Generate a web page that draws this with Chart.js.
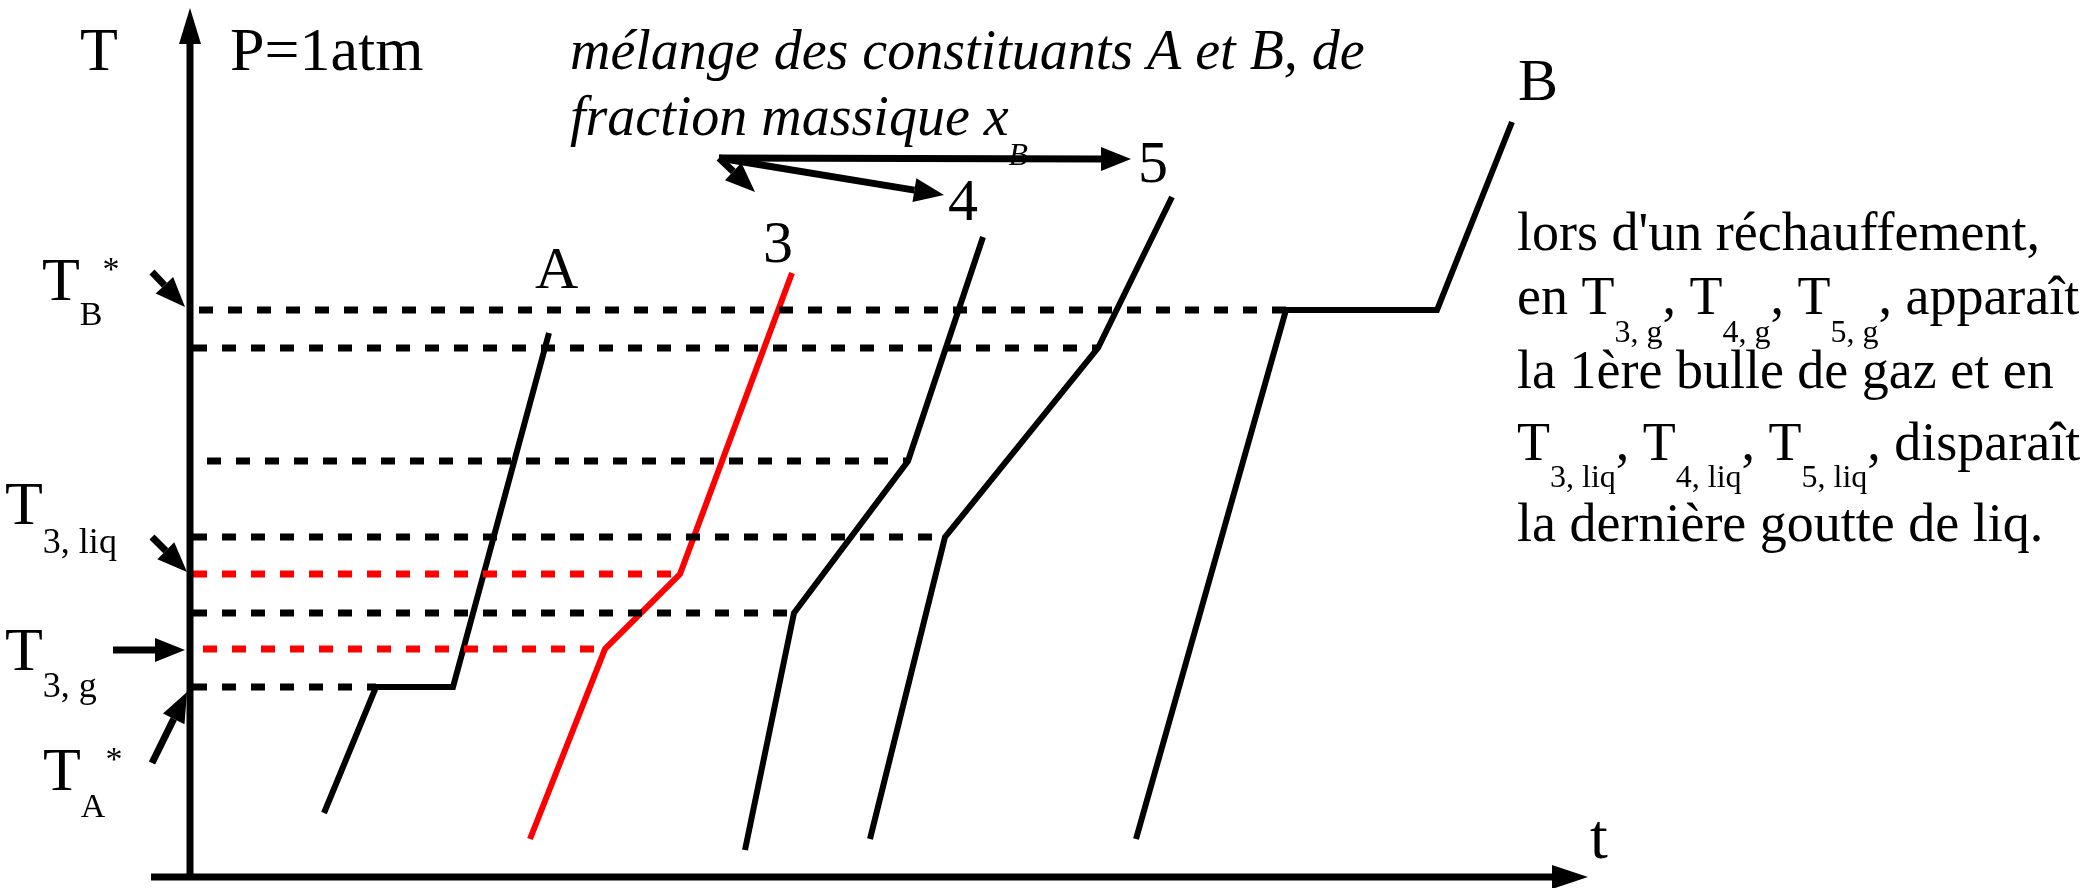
<!DOCTYPE html>
<html>
<head>
<meta charset="utf-8">
<script src="https://cdn.jsdelivr.net/npm/chart.js@4/dist/chart.umd.min.js"></script>
<style>
  html, body { margin: 0; padding: 0; background: #fff; }
  canvas { display: block; }
</style>
</head>
<body>
<canvas id="chart" width="2089" height="888"></canvas>
<script>
// Courbes d'analyse thermique, P = 1 atm (t et T en unités arbitraires).
var tA = [13.4, 18.6, 26.3, 35.9];
var TA = [6.4, 19.0, 19.0, 54.4];
var t3 = [34.0, 41.5, 49.0, 60.2];
var T3 = [3.8, 22.8, 30.3, 60.4];
var t4 = [55.5, 60.4, 71.8, 79.3];
var T4 = [2.7, 26.4, 41.6, 64.0];
var t5 = [68.0, 75.5, 90.8, 98.2];
var T5 = [3.8, 34.0, 52.9, 68.0];
var tB = [94.6, 109.6, 124.7, 132.2];
var TB = [3.8, 56.7, 56.7, 75.5];

// Paliers / températures repérées (lignes pointillées).
var levelT = [56.7, 52.9, 41.6, 34.0, 30.3, 26.4, 22.8, 19.0];
var levelStart = [0.9, 0.3, 1.7, 0.3, 0.3, 0.3, 1.3, 0.3];
var levelEnd = [109.6, 90.8, 71.8, 75.5, 49.0, 60.4, 41.5, 18.6];
var levelRed = [false, false, false, false, true, false, true, false];

var RED = '#ff0000';
var BLACK = '#000000';
var FONT = '"Liberation Serif", "Times New Roman", serif';

function pts(ts, Ts) {
  return ts.map(function (t, i) { return {x: t, y: Ts[i]}; });
}

function curve(ts, Ts, color) {
  return {
    data: pts(ts, Ts),
    showLine: true,
    borderColor: color,
    borderWidth: 6,
    borderCapStyle: 'butt',
    borderJoinStyle: 'miter',
    pointRadius: 0,
    tension: 0
  };
}

var datasets = [];
levelT.forEach(function (T, i) {
  datasets.push({
    data: [{x: levelStart[i], y: T}, {x: levelEnd[i], y: T}],
    showLine: true,
    borderColor: levelRed[i] ? RED : BLACK,
    borderWidth: 7,
    borderDash: [14, 15],
    borderCapStyle: 'butt',
    pointRadius: 0
  });
});
datasets.push(curve(tA, TA, BLACK));
datasets.push(curve(t3, T3, RED));
datasets.push(curve(t4, T4, BLACK));
datasets.push(curve(t5, T5, BLACK));
datasets.push(curve(tB, TB, BLACK));

// Flèches (départ t,T -> pointe t,T).
var arrows = [
  [-3.8, 60.5, -0.5, 57.0],
  [-3.8, 34.0, -0.3, 30.5],
  [-7.7, 22.7, -0.5, 22.7],
  [-3.8, 11.4, -0.3, 18.5],
  [52.9, 71.9, 94.1, 71.8],
  [52.9, 71.9, 75.4, 68.2],
  [52.9, 71.9, 56.5, 68.5]
];

// Textes : position (t, T de la ligne de base), taille, morceaux.
var labels = [
  {t: -11, T: 80.7, size: 62, parts: [{text: 'T'}]},
  {t: 4.0, T: 80.7, size: 62, parts: [{text: 'P=1atm'}]},
  {t: 140, T: 1.9, size: 64, parts: [{text: 't'}]},
  {t: 34.5, T: 58.9, size: 60, parts: [{text: 'A'}]},
  {t: 57.3, T: 61.5, size: 60, parts: [{text: '3'}]},
  {t: 75.8, T: 65.7, size: 60, parts: [{text: '4'}]},
  {t: 94.8, T: 69.5, size: 60, parts: [{text: '5'}]},
  {t: 132.8, T: 77.7, size: 60, parts: [{text: 'B'}]},
  {t: -14.8, T: 57.7, size: 62, sub: 34, shift: 25, parts: [{text: 'T'}, {text: 'B', sub: true}, {text: '*', sup: true}]},
  {t: -18.5, T: 35.3, size: 62, sub: 36, shift: 29, parts: [{text: 'T'}, {text: '3, liq', sub: true}]},
  {t: -18.5, T: 20.7, size: 62, sub: 36, shift: 27, parts: [{text: 'T'}, {text: '3, g', sub: true}]},
  {t: -14.7, T: 8.7, size: 62, sub: 34, shift: 27, parts: [{text: 'T'}, {text: 'A', sub: true}, {text: '*', sup: true}]},
  {t: 38, T: 80.8, size: 56, italic: true, parts: [{text: 'mélange des constituants A et B, de'}]},
  {t: 38, T: 74.2, size: 56, italic: true, sub: 32, shift: 30, parts: [{text: 'fraction massique x'}, {text: 'B', sub: true}]},
  {t: 132.7, T: 62.7, size: 54, parts: [{text: 'lors d\'un réchauffement,'}]},
  {t: 132.7, T: 56.3, size: 54, sub: 32, shift: 28, parts: [
    {text: 'en T'}, {text: '3, g', sub: true}, {text: ', T'}, {text: '4, g', sub: true},
    {text: ', T'}, {text: '5, g', sub: true}, {text: ', apparaît'}]},
  {t: 132.7, T: 48.9, size: 54, parts: [{text: 'la 1ère bulle de gaz et en'}]},
  {t: 132.7, T: 41.7, size: 54, sub: 32, shift: 27, parts: [
    {text: 'T'}, {text: '3, liq', sub: true}, {text: ', T'}, {text: '4, liq', sub: true},
    {text: ', T'}, {text: '5, liq', sub: true}, {text: ', disparaît'}]},
  {t: 132.7, T: 33.6, size: 54, parts: [{text: 'la dernière goutte de liq.'}]}
];

function drawArrow(ctx, x1, y1, x2, y2, len, half, lw) {
  var a = Math.atan2(y2 - y1, x2 - x1);
  var bx = x2 - len * Math.cos(a);
  var by = y2 - len * Math.sin(a);
  ctx.lineWidth = lw;
  ctx.beginPath();
  ctx.moveTo(x1, y1);
  ctx.lineTo(bx, by);
  ctx.stroke();
  ctx.beginPath();
  ctx.moveTo(x2, y2);
  ctx.lineTo(bx + half * Math.sin(a), by - half * Math.cos(a));
  ctx.lineTo(bx - half * Math.sin(a), by + half * Math.cos(a));
  ctx.closePath();
  ctx.fill();
}

var diagramPlugin = {
  id: 'diagram',
  afterDatasetsDraw: function (chart) {
    var ctx = chart.ctx;
    var sx = chart.scales.x;
    var sy = chart.scales.y;
    var px = function (t) { return sx.getPixelForValue(t); };
    var py = function (T) { return sy.getPixelForValue(T); };

    ctx.save();
    ctx.strokeStyle = BLACK;
    ctx.fillStyle = BLACK;
    ctx.lineCap = 'butt';

    // axes T (vertical) et t (horizontal)
    drawArrow(ctx, px(0), py(0), px(0), py(86.9), 36, 11, 7);
    drawArrow(ctx, px(-3.9), py(0), px(139.8), py(0), 36, 12, 7);

    arrows.forEach(function (a) {
      drawArrow(ctx, px(a[0]), py(a[1]), px(a[2]), py(a[3]), 30, 12, 7);
    });

    ctx.textBaseline = 'alphabetic';
    ctx.textAlign = 'left';
    labels.forEach(function (l) {
      var x = px(l.t);
      var y = py(l.T);
      l.parts.forEach(function (p) {
        var small = p.sub || p.sup;
        var size = small ? l.sub : l.size;
        ctx.font = (l.italic ? 'italic ' : '') + size + 'px ' + FONT;
        var dy = p.sub ? l.shift : (p.sup ? -20 : 0);
        ctx.fillText(p.text, x, y + dy);
        x += ctx.measureText(p.text).width;
      });
    });
    ctx.restore();
  }
};

new Chart(document.getElementById('chart'), {
  type: 'scatter',
  data: {datasets: datasets},
  options: {
    responsive: false,
    animation: false,
    layout: {padding: 0},
    plugins: {legend: {display: false}, tooltip: {enabled: false}},
    scales: {
      x: {type: 'linear', display: false, min: -19, max: 189.9},
      y: {type: 'linear', display: false, min: -1.1, max: 87.7}
    }
  },
  plugins: [diagramPlugin]
});
</script>
</body>
</html>
